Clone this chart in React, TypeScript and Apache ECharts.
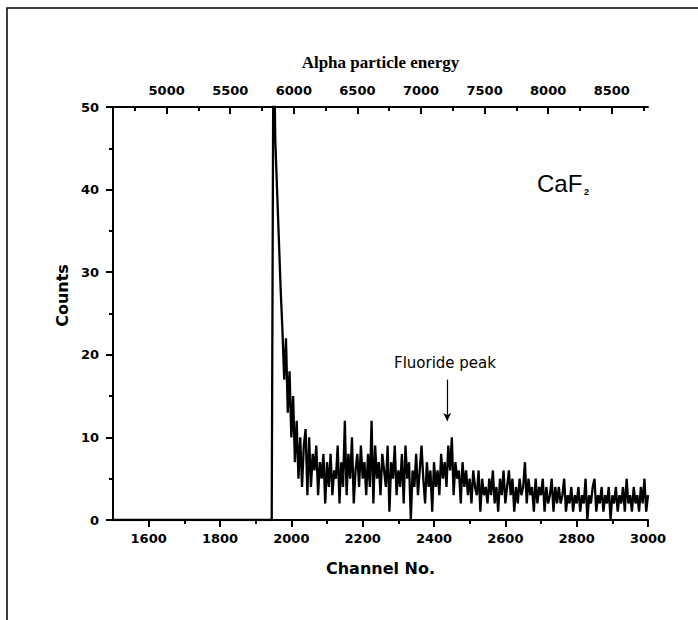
import React, { useEffect, useRef } from "react";
import * as echarts from "echarts";

// ---- data ----
const leadChannels = [1500, 1945];
const leadCounts = [0, 0];

const channelStart = 1950;
const channelStep = 5;
const counts = [
  // 1950-1995
  62, 46, 40, 34, 28, 23, 17, 22, 13, 18,
  // 2000-2045
  10, 15, 7, 12, 5, 10, 4, 9, 11, 3,
  // 2050-2095
  10, 4, 8, 6, 9, 3, 7, 5, 8, 2,
  // 2100-2145
  7, 4, 8, 3, 6, 5, 9, 2, 7, 4,
  // 2150-2195
  12, 3, 8, 5, 10, 2, 6, 8, 4, 9,
  // 2200-2245
  5, 7, 3, 8, 4, 12, 2, 9, 5, 7,
  // 2250-2295
  3, 8, 6, 4, 9, 1, 7, 5, 9, 3,
  // 2300-2345
  6, 4, 8, 2, 9, 5, 7, 0, 6, 4,
  // 2350-2395
  8, 3, 6, 9, 5, 2, 7, 4, 6, 1,
  // 2400-2445
  7, 4, 6, 3, 8, 5, 7, 4, 9, 6,
  // 2450-2495
  10, 3, 7, 5, 6, 2, 7, 4, 6, 3,
  // 2500-2545
  5, 2, 6, 4, 3, 6, 1, 5, 3, 4,
  // 2550-2595
  2, 5, 3, 6, 2, 4, 1, 5, 3, 6,
  // 2600-2645
  2, 4, 6, 3, 5, 1, 4, 2, 5, 3,
  // 2650-2695
  4, 7, 2, 5, 3, 4, 1, 5, 2, 4,
  // 2700-2745
  3, 5, 1, 4, 2, 3, 5, 1, 4, 2,
  // 2750-2795
  4, 2, 3, 5, 1, 3, 2, 4, 1, 3,
  // 2800-2845
  2, 4, 1, 3, 2, 5, 0, 3, 2, 4,
  // 2850-2895
  5, 1, 3, 2, 4, 1, 3, 2, 4, 0,
  // 2900-2945
  3, 2, 4, 1, 3, 2, 4, 1, 5, 2,
  // 2950-2995
  3, 1, 4, 2, 3, 1, 4, 2, 5, 1,
  // 3000
  3,
];

const channelTicks = [1600, 1800, 2000, 2200, 2400, 2600, 2800, 3000];
const channelMinorTicks = [1700, 1900, 2100, 2300, 2500, 2700, 2900];
const energyTicks = [5000, 5500, 6000, 6500, 7000, 7500, 8000, 8500];
const energyMinorTicks = [4750, 5250, 5750, 6250, 6750, 7250, 7750, 8250, 8750];
const energyRange = [4578, 8785];
const channelRange = [1500, 3000];
const countRange = [0, 50];
const fluorideArrow = { channel: 2437, from: 17, to: 12 };

const AXIS_FONT = "DejaVu Sans";

export default function App() {
  const ref = useRef<HTMLDivElement>(null);

  useEffect(() => {
    if (!ref.current) return;
    const chart = echarts.init(ref.current, null, { renderer: "svg" });

    const seriesData: number[][] = leadChannels
      .map((c, i) => [c, leadCounts[i]])
      .concat(counts.map((v, i) => [channelStart + i * channelStep, v]));

    const axisLine = { show: true, lineStyle: { color: "#000", width: 2 } };
    const plain = (v: number) => String(v);
    const labelStyle = {
      color: "#000",
      fontFamily: AXIS_FONT,
      fontWeight: "bold" as const,
      fontSize: 13,
      formatter: plain,
    };

    chart.setOption({
      animation: false,
      backgroundColor: "#fff",
      grid: { left: 113, right: 50, top: 107, bottom: 100, containLabel: false },
      xAxis: [
        {
          type: "value",
          position: "bottom",
          min: channelRange[0],
          max: channelRange[1],
          axisLine,
          axisTick: {
            show: true,
            inside: false,
            length: 7,
            customValues: channelTicks,
            lineStyle: { color: "#000", width: 2 },
          },
          axisLabel: { ...labelStyle, margin: 12, customValues: channelTicks },
          splitLine: { show: false },
          name: "Channel No.",
          nameLocation: "middle",
          nameGap: 40,
          nameTextStyle: { color: "#000", fontFamily: AXIS_FONT, fontWeight: "bold", fontSize: 16 },
        },
        {
          type: "value",
          position: "bottom",
          min: channelRange[0],
          max: channelRange[1],
          axisLine: { show: false },
          axisTick: {
            show: true,
            inside: false,
            length: 4,
            customValues: channelMinorTicks,
            lineStyle: { color: "#000", width: 2 },
          },
          axisLabel: { show: false },
          splitLine: { show: false },
        },
        {
          type: "value",
          position: "top",
          min: energyRange[0],
          max: energyRange[1],
          axisLine,
          axisTick: {
            show: true,
            inside: true,
            length: 7,
            customValues: energyTicks,
            lineStyle: { color: "#000", width: 2 },
          },
          axisLabel: { ...labelStyle, margin: 10, customValues: energyTicks },
          splitLine: { show: false },
          name: "Alpha particle energy",
          nameLocation: "middle",
          nameGap: 36,
          nameTextStyle: {
            color: "#000",
            fontFamily: "Liberation Serif",
            fontWeight: "bold",
            fontSize: 17,
          },
        },
        {
          type: "value",
          position: "top",
          min: energyRange[0],
          max: energyRange[1],
          axisLine: { show: false },
          axisTick: {
            show: true,
            inside: true,
            length: 4,
            customValues: energyMinorTicks,
            lineStyle: { color: "#000", width: 2 },
          },
          axisLabel: { show: false },
          splitLine: { show: false },
        },
      ],
      yAxis: [
        {
          type: "value",
          min: countRange[0],
          max: countRange[1],
          interval: 10,
          axisLine,
          axisTick: { show: true, inside: false, length: 7, lineStyle: { color: "#000", width: 2 } },
          minorTick: { show: true, splitNumber: 2, length: 4, lineStyle: { color: "#000", width: 2 } },
          axisLabel: { ...labelStyle, margin: 14 },
          splitLine: { show: false },
          name: "Counts",
          nameLocation: "middle",
          nameGap: 40,
          nameTextStyle: {
            color: "#000",
            fontFamily: AXIS_FONT,
            fontWeight: "bold",
            fontSize: 16,
            padding: [0, 0, 0, 36],
          },
        },
      ],
      series: [
        {
          type: "line",
          xAxisIndex: 0,
          yAxisIndex: 0,
          data: seriesData,
          showSymbol: false,
          clip: true,
          lineStyle: { color: "#000", width: 2.3 },
          markLine: {
            silent: true,
            symbol: ["none", "arrow"],
            symbolSize: [6, 8],
            label: { show: false },
            lineStyle: { color: "#000", width: 1.2, type: "solid" },
            data: [
              [
                { coord: [fluorideArrow.channel, fluorideArrow.from] },
                { coord: [fluorideArrow.channel, fluorideArrow.to] },
              ],
            ],
          },
        },
      ],
      graphic: [
        {
          type: "polyline",
          shape: { points: [[7, 620], [7, 8], [698, 8]] },
          style: { stroke: "#000", lineWidth: 1.5, fill: "none" },
        },
        {
          type: "text",
          x: 445,
          y: 363,
          style: {
            text: "Fluoride peak",
            fill: "#000",
            font: "15px 'DejaVu Sans'",
            textAlign: "center",
            textVerticalAlign: "middle",
          },
        },
        {
          type: "text",
          x: 537,
          y: 183,
          style: {
            text: "CaF",
            fill: "#000",
            font: "24px 'Liberation Sans'",
            textAlign: "left",
            textVerticalAlign: "middle",
          },
        },
        {
          type: "text",
          x: 584,
          y: 192,
          style: {
            text: "2",
            fill: "#000",
            font: "bold 9px 'Liberation Sans'",
            textAlign: "left",
            textVerticalAlign: "middle",
          },
        },
      ],
    });

    return () => chart.dispose();
  }, []);

  return (
    <div
      ref={ref}
      style={{ position: "fixed", left: 0, top: 0, width: 698, height: 620, background: "#fff" }}
    />
  );
}
